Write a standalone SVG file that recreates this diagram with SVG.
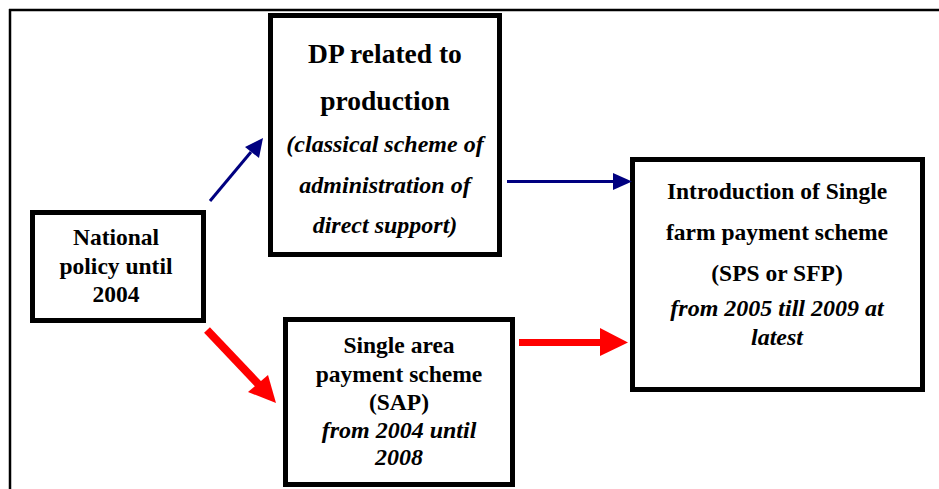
<svg xmlns="http://www.w3.org/2000/svg" width="939" height="489" viewBox="0 0 939 489">
<defs>
<style>
.box{fill:#fff;stroke:#000;stroke-width:5}
.t{font-family:"Liberation Serif","Times New Roman",serif;font-weight:bold;text-anchor:middle;fill:#000}
.b{font-size:23.5px}
.h{font-size:27.5px}
.i{font-style:italic;font-size:24px}
</style>
</defs>
<rect width="939" height="489" fill="#fff"/>
<g id="frame" stroke="#000" stroke-width="2.5" fill="none">
<line x1="9" y1="10" x2="939" y2="10"/>
<line x1="10" y1="9" x2="10" y2="489"/>
</g>
<g id="national">
<rect class="box" x="32.5" y="212.5" width="171" height="108"/>
<text class="t b" x="116" y="245">National</text>
<text class="t b" x="116" y="274">policy until</text>
<text class="t b" x="116" y="302">2004</text>
</g>
<g id="dp">
<rect class="box" x="270.5" y="15.5" width="229" height="239"/>
<text class="t h" x="385" y="63">DP related to</text>
<text class="t h" x="385" y="110">production</text>
<text class="t b i" x="385" y="152">(classical scheme of</text>
<text class="t b i" x="385" y="193">administration of</text>
<text class="t b i" x="385" y="233">direct support)</text>
</g>
<g id="sap">
<rect class="box" x="285.5" y="319.5" width="227" height="165"/>
<text class="t b" x="399" y="353">Single area</text>
<text class="t b" x="399" y="382">payment scheme</text>
<text class="t b" x="399" y="410">(SAP)</text>
<text class="t b i" x="399" y="438">from 2004 until</text>
<text class="t b i" x="399" y="465">2008</text>
</g>
<g id="sps">
<rect class="box" x="632.5" y="159.5" width="290" height="230"/>
<text class="t b" x="777" y="199">Introduction of Single</text>
<text class="t b" x="777" y="240">farm payment scheme</text>
<text class="t b" x="777" y="281">(SPS or SFP)</text>
<text class="t b i" x="777" y="316">from 2005 till 2009 at</text>
<text class="t b i" x="777" y="345">latest</text>
</g>
<g id="connectors">
<line x1="210" y1="201" x2="251" y2="152" stroke="#000080" stroke-width="3"/>
<polygon points="263,138 245,147 259,158" fill="#000080"/>
<line x1="507" y1="181.5" x2="615" y2="181.5" stroke="#000080" stroke-width="3"/>
<polygon points="632,181.5 613,173 613,190" fill="#000080"/>
<line x1="207" y1="330" x2="262" y2="388" stroke="#ff0000" stroke-width="8"/>
<polygon points="276,403 248,392 268,375" fill="#ff0000"/>
<line x1="519" y1="342.5" x2="602" y2="342.5" stroke="#ff0000" stroke-width="7"/>
<polygon points="628,342.5 600,328 600,356" fill="#ff0000"/>
</g>
</svg>
